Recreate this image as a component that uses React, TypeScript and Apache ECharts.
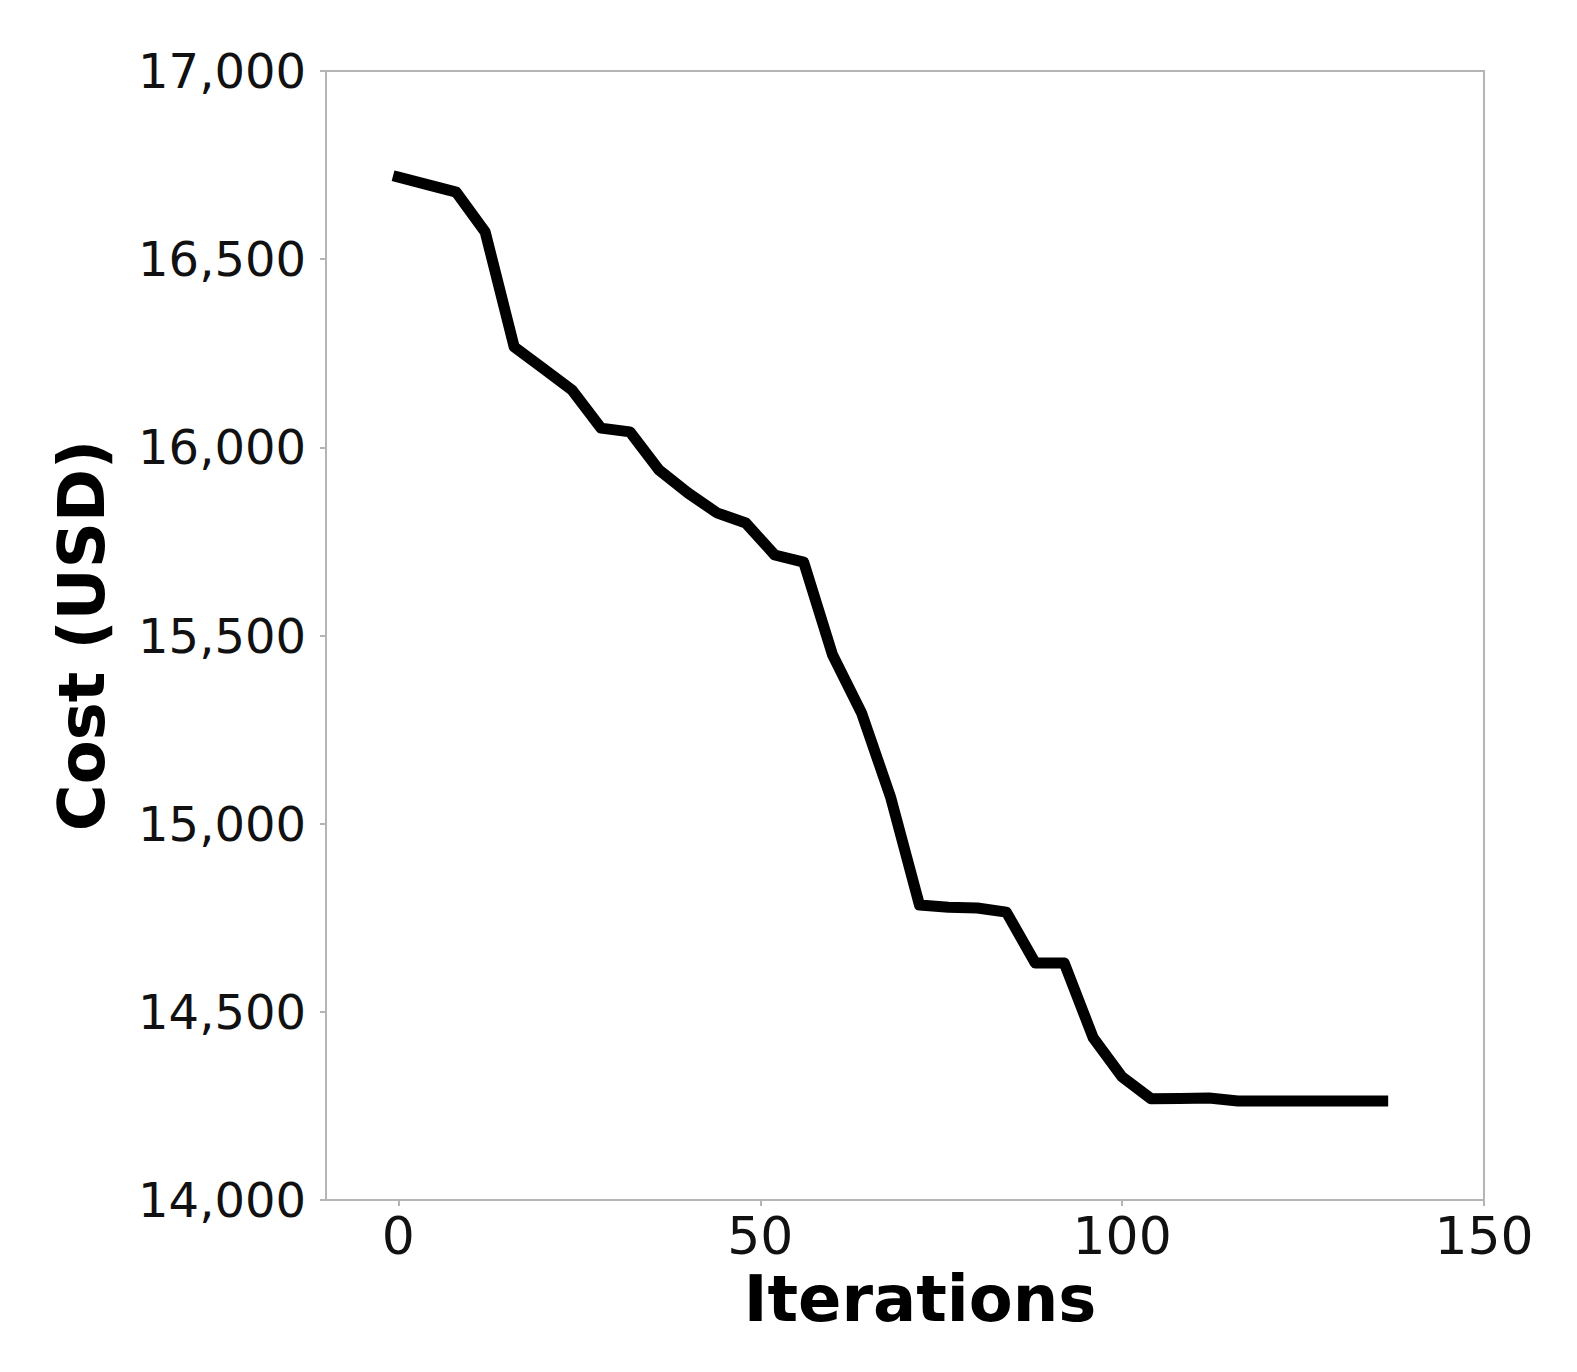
import React, { useEffect, useRef } from "react";
import * as echarts from "echarts";

const iterations = [0, 4, 8, 12, 16, 20, 24, 28, 32, 36, 40, 44, 48, 52, 56, 60, 64, 68, 72, 76, 80, 84, 88, 92, 96, 100, 104, 108, 112, 116, 120, 124, 128, 132, 136];
const costs = [16718, 16698, 16678, 16572, 16267, 16210, 16152, 16051, 16041, 15940, 15879, 15826, 15799, 15714, 15695, 15448, 15294, 15071, 14784, 14778, 14776, 14765, 14630, 14630, 14431, 14327, 14269, 14270, 14271, 14263, 14263, 14263, 14263, 14263, 14263];
const xTicks = [0, 50, 100, 150];
const yTicks = [14000, 14500, 15000, 15500, 16000, 16500, 17000];

export default function App() {
  const ref = useRef<HTMLDivElement>(null);
  useEffect(() => {
    document.body.style.margin = "0";
    const chart = echarts.init(ref.current!, null, { renderer: "svg" });
    const font = "DejaVu Sans";
    chart.setOption({
      animation: false,
      backgroundColor: "#ffffff",
      grid: {
        left: 326,
        right: 93,
        top: 71,
        bottom: 172,
        show: true,
        borderColor: "#b5b5b5",
        borderWidth: 2,
      },
      xAxis: {
        type: "value",
        min: -10,
        max: 150,
        name: "Iterations",
        nameLocation: "middle",
        nameGap: 58,
        nameTextStyle: { fontFamily: font, fontWeight: "bold", fontSize: 64, color: "#000", padding: [0, 0, 0, 30] },
        axisLine: { show: true, onZero: false, lineStyle: { color: "#b5b5b5", width: 2 } },
        axisTick: { show: true, customValues: xTicks, length: 6, lineStyle: { color: "#b5b5b5", width: 2 } },
        axisLabel: { customValues: xTicks, fontFamily: font, fontSize: 52, color: "#111", margin: 10 },
        splitLine: { show: false },
      },
      yAxis: {
        type: "value",
        min: yTicks[0],
        max: yTicks[yTicks.length - 1],
        interval: 500,
        name: "Cost (USD)",
        nameLocation: "middle",
        nameRotate: 90,
        nameGap: 212,
        nameTextStyle: { fontFamily: font, fontWeight: "bold", fontSize: 64, color: "#000" },
        axisLine: { show: true, onZero: false, lineStyle: { color: "#b5b5b5", width: 2 } },
        axisTick: { show: true, length: 6, lineStyle: { color: "#b5b5b5", width: 2 } },
        axisLabel: {
          fontFamily: font,
          fontSize: 48,
          color: "#111",
          margin: 20,
          formatter: (v: number) => v.toLocaleString("en-US"),
        },
        splitLine: { show: false },
      },
      series: [
        {
          type: "line",
          data: iterations.map((it, i) => [it, costs[i]]),
          showSymbol: false,
          symbol: "none",
          lineStyle: { color: "#000000", width: 11, cap: "square", join: "round" },
        },
      ],
    });
    return () => chart.dispose();
  }, []);
  return <div ref={ref} style={{ width: 1577, height: 1372 }} />;
}
